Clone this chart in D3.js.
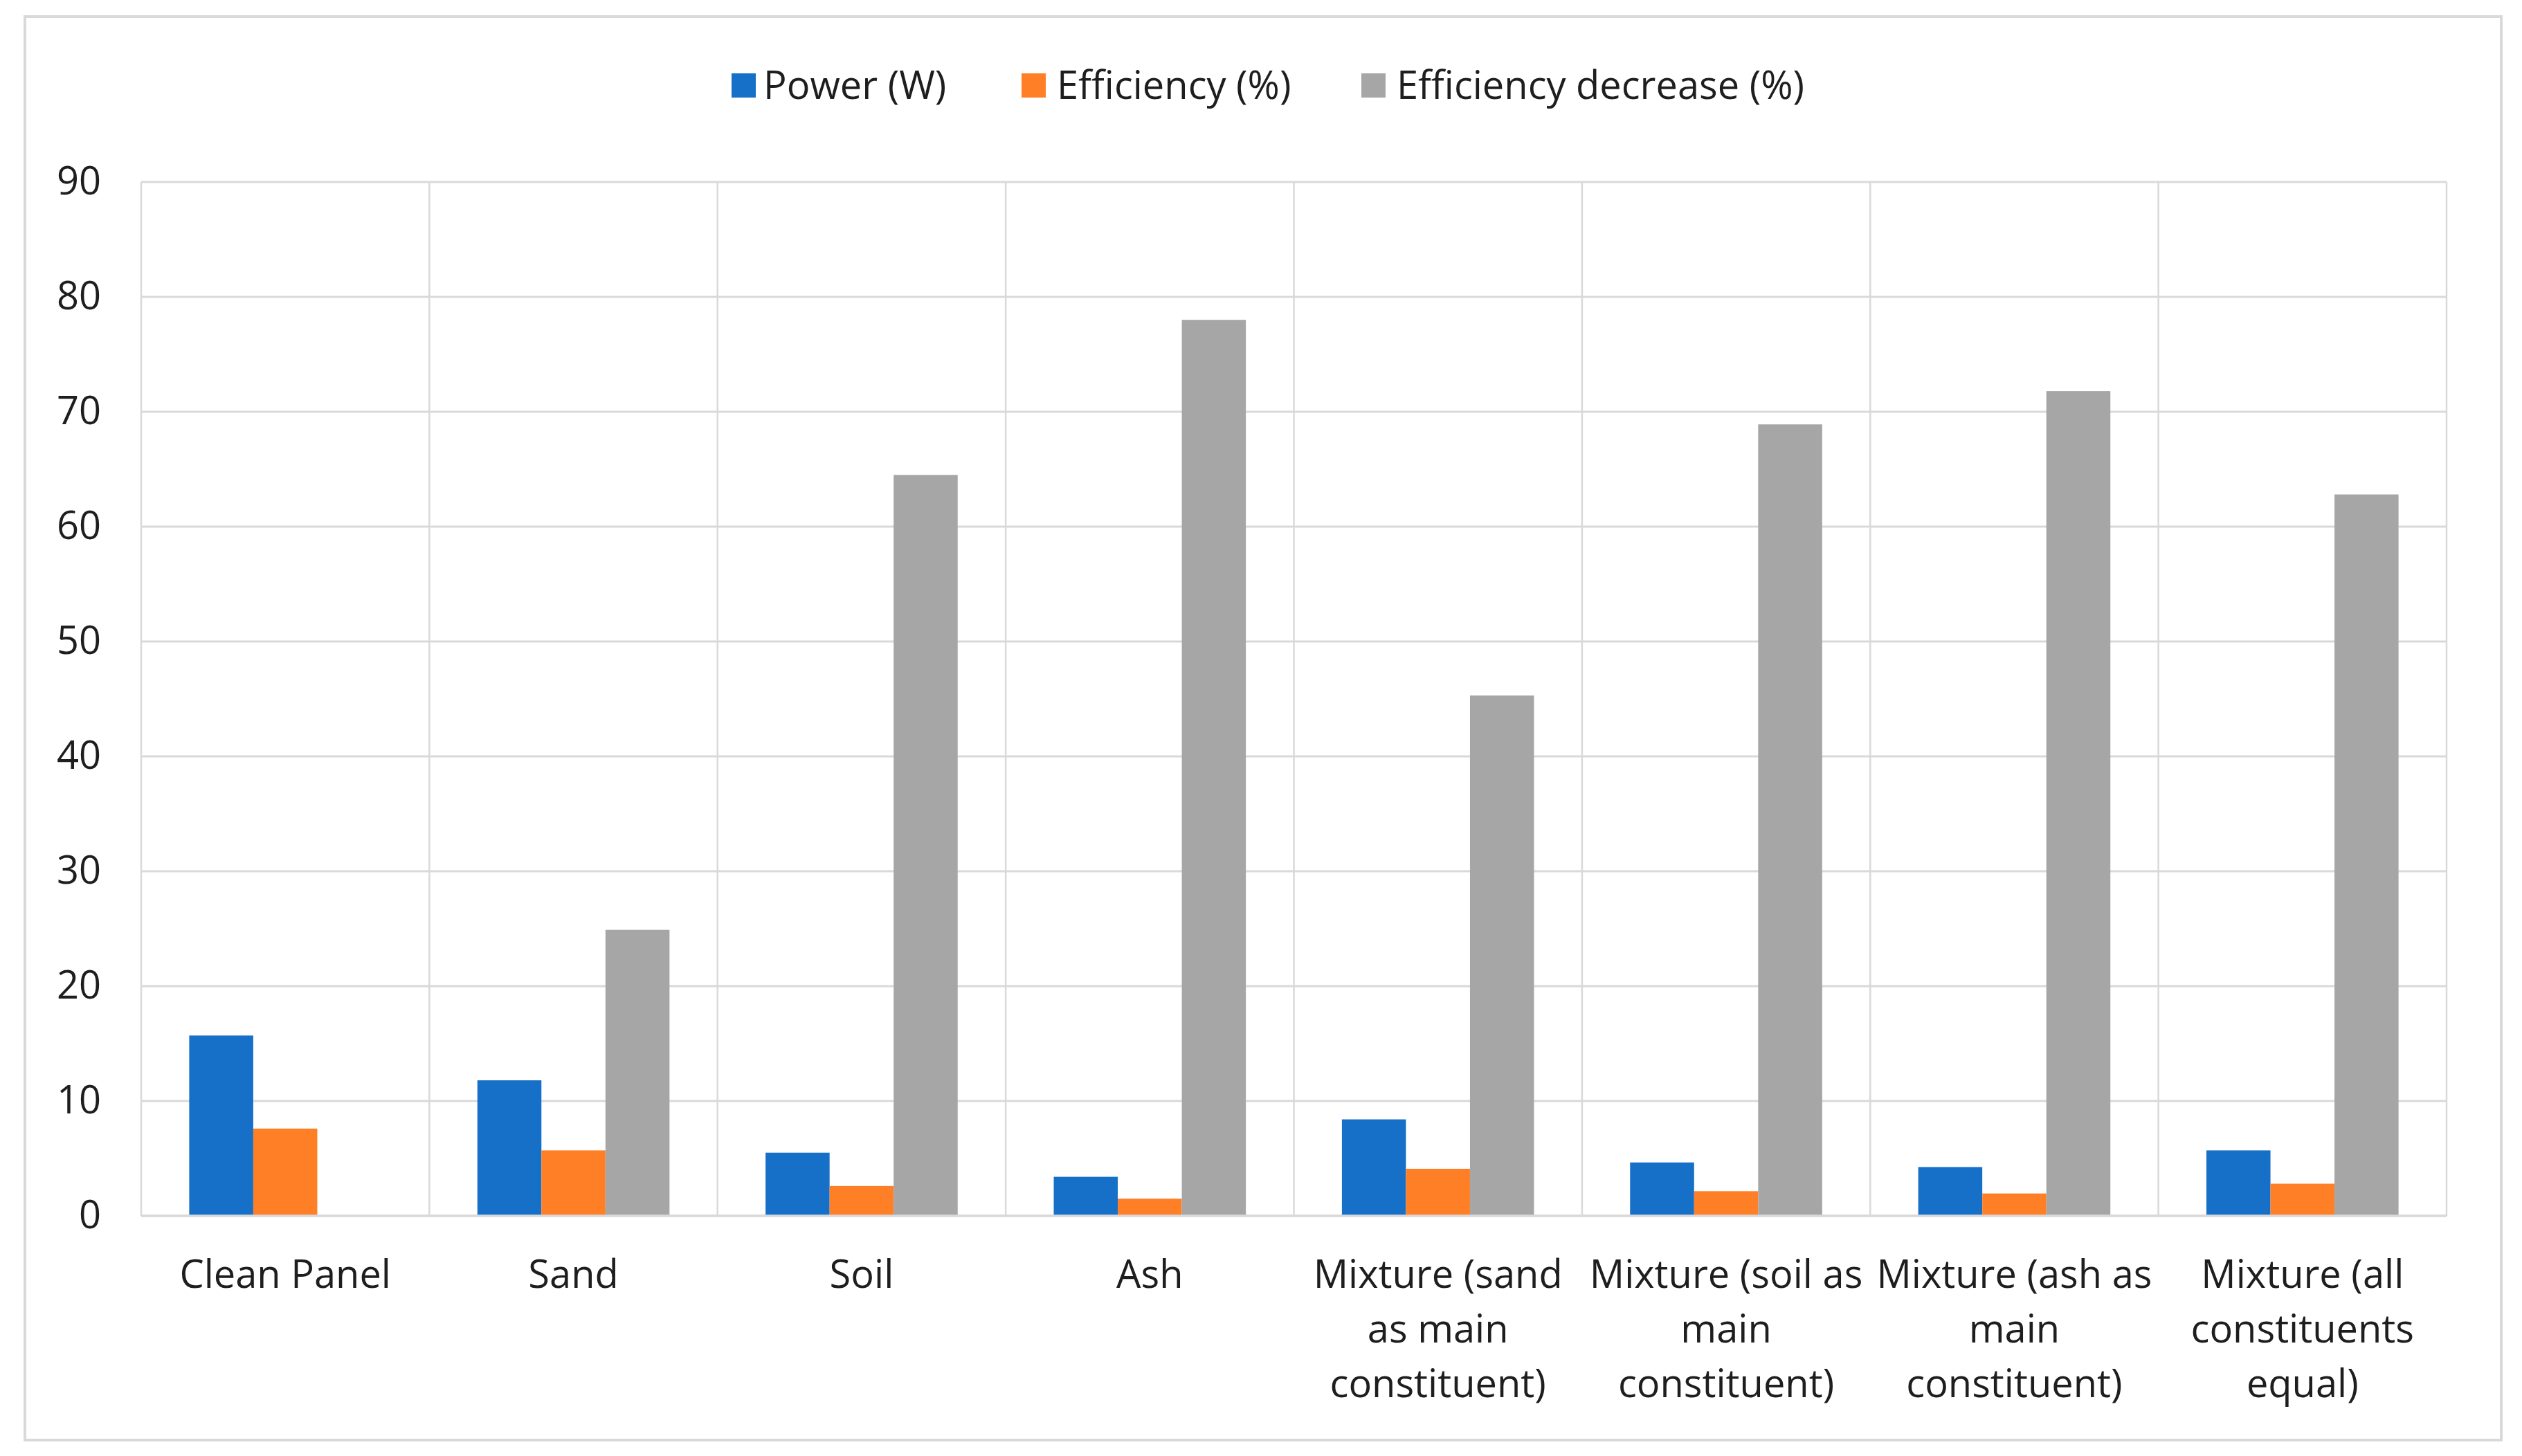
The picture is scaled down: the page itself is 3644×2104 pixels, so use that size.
<!DOCTYPE html>
<html>
<head>
<meta charset="utf-8">
<script src="https://cdn.jsdelivr.net/npm/d3@7"></script>
<style>
  html, body { margin: 0; padding: 0; background: #fff; }
  svg { display: block; }
  text { font-family: "Open Sans", "Noto Sans", sans-serif; fill: #1e1e1e; }
</style>
</head>
<body>
<script>
const categories = [
  "Clean Panel", "Sand", "Soil", "Ash",
  "Mixture (sand as main constituent)",
  "Mixture (soil as main constituent)",
  "Mixture (ash as main constituent)",
  "Mixture (all constituents equal)"
];
const categoryLines = [
  ["Clean Panel"], ["Sand"], ["Soil"], ["Ash"],
  ["Mixture (sand", "as main", "constituent)"],
  ["Mixture (soil as", "main", "constituent)"],
  ["Mixture (ash as", "main", "constituent)"],
  ["Mixture (all", "constituents", "equal)"]
];
const seriesNames = ["Power (W)", "Efficiency (%)", "Efficiency decrease (%)"];
const powerW = [15.7, 11.8, 5.5, 3.4, 8.4, 4.65, 4.25, 5.7];
const efficiencyPct = [7.6, 5.7, 2.6, 1.5, 4.1, 2.15, 1.95, 2.8];
const efficiencyDecreasePct = [0, 24.9, 64.5, 78.0, 45.3, 68.9, 71.8, 62.8];
const yTicks = [0, 10, 20, 30, 40, 50, 60, 70, 80, 90];
const colors = ["#1670C8", "#FF7F27", "#A6A6A6"];

const W = 3644, H = 2104;
const plot = { left: 204, right: 3535, top: 263, bottom: 1757 };

const svg = d3.select("body").append("svg")
  .attr("width", W).attr("height", H);

// outer chart border
svg.append("rect")
  .attr("x", 36).attr("y", 24).attr("width", 3578).attr("height", 2057)
  .attr("fill", "#fff").attr("stroke", "#D9D9D9").attr("stroke-width", 4);

const x0 = d3.scaleBand().domain(categories).range([plot.left, plot.right]).paddingInner(0).paddingOuter(0);
const x1 = d3.scaleBand().domain(seriesNames).range([0, x0.bandwidth()]).paddingInner(0).paddingOuter(0.75);
const y = d3.scaleLinear().domain([0, 90]).range([plot.bottom, plot.top]);

// horizontal gridlines
svg.append("g").selectAll("line").data(yTicks).join("line")
  .attr("x1", plot.left).attr("x2", plot.right)
  .attr("y1", d => y(d)).attr("y2", d => y(d))
  .attr("stroke", "#D9D9D9").attr("stroke-width", 3);

// vertical gridlines at category boundaries
const bounds = categories.map(c => x0(c)).concat([plot.right]);
svg.append("g").selectAll("line").data(bounds).join("line")
  .attr("x1", d => d).attr("x2", d => d)
  .attr("y1", plot.top).attr("y2", plot.bottom)
  .attr("stroke", "#D9D9D9").attr("stroke-width", 2.5);

// bars
const seriesData = [powerW, efficiencyPct, efficiencyDecreasePct];
const g = svg.append("g");
seriesData.forEach((vals, si) => {
  g.selectAll(null).data(vals).join("rect")
    .attr("x", (d, i) => x0(categories[i]) + x1(seriesNames[si]))
    .attr("width", x1.bandwidth())
    .attr("y", d => y(d))
    .attr("height", d => y(0) - y(d))
    .attr("fill", colors[si]);
});

// baseline
svg.append("line")
  .attr("x1", plot.left).attr("x2", plot.right)
  .attr("y1", y(0)).attr("y2", y(0))
  .attr("stroke", "#D9D9D9").attr("stroke-width", 3.5);

// y axis labels
const fs = 56;
const yAxis = d3.axisLeft(y).tickValues(yTicks).tickSize(0).tickPadding(58);
const ya = svg.append("g").attr("transform", `translate(${plot.left},0)`).call(yAxis);
ya.select(".domain").remove();
ya.selectAll("text").style("font-size", fs + "px").attr("fill", "#1e1e1e")
  .style("font-family", '"Open Sans", "Noto Sans", sans-serif');

// x axis labels
const xl = svg.append("g");
categories.forEach((c, i) => {
  const cx = x0(c) + x0.bandwidth() / 2;
  const t = xl.append("text")
    .attr("x", cx).attr("text-anchor", "middle")
    .style("font-size", fs + "px");
  categoryLines[i].forEach((line, li) => {
    t.append("tspan").attr("x", cx).attr("y", 1861 + li * 79).text(line);
  });
});

// legend
const legendItems = [
  { x: 1057, tx: 1103 },
  { x: 1476, tx: 1527 },
  { x: 1967, tx: 2018 }
];
const lg = svg.append("g");
seriesNames.forEach((s, i) => {
  lg.append("rect").attr("x", legendItems[i].x).attr("y", 106)
    .attr("width", 35).attr("height", 35).attr("fill", colors[i]);
  lg.append("text").attr("x", legendItems[i].tx).attr("y", 143)
    .style("font-size", fs + "px").text(s);
});
</script>
</body>
</html>
